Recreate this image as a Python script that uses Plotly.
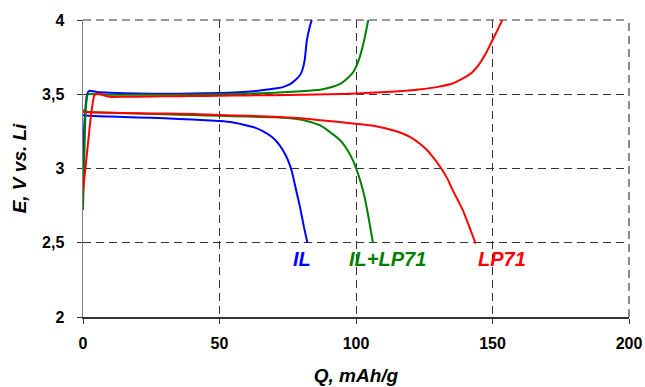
import plotly.graph_objects as go

# IL (blue)
il_charge_q = [0, 0.5, 1.5, 2.3, 5, 10, 20, 30, 40, 50, 57, 62.5, 67, 71, 73.5, 76, 78, 79.5, 80.3, 81.2, 82, 83, 83.8]
il_charge_e = [2.95, 3.3, 3.5, 3.523, 3.515, 3.51, 3.505, 3.503, 3.505, 3.508, 3.513, 3.52, 3.53, 3.54, 3.55, 3.57, 3.6, 3.63, 3.66, 3.73, 3.865, 3.95, 4.0]
il_dis_q = [0, 2, 10, 20, 30, 40, 50, 55, 60, 63, 66, 69, 71, 73, 75, 76.5, 78, 79.5, 81, 82.2]
il_dis_e = [3.36, 3.355, 3.35, 3.344, 3.338, 3.33, 3.32, 3.31, 3.29, 3.275, 3.25, 3.215, 3.18, 3.13, 3.06, 2.98, 2.86, 2.74, 2.6, 2.5]

# IL+LP71 (green)
mix_charge_q = [0, 0.5, 1, 1.8, 5, 10, 20, 30, 40, 50, 60, 70, 80, 86.9, 90.5, 94.2, 97, 99, 101, 102.7, 104.5]
mix_charge_e = [2.72, 3.1, 3.4, 3.5, 3.5, 3.497, 3.496, 3.496, 3.497, 3.5, 3.503, 3.51, 3.52, 3.53, 3.545, 3.57, 3.61, 3.65, 3.73, 3.84, 4.0]
mix_dis_q = [0, 2, 10, 20, 30, 40, 50, 60, 70, 75, 79.6, 83, 86.9, 90.5, 94.2, 97, 99, 101, 103, 104.5, 106.2]
mix_dis_e = [3.39, 3.38, 3.375, 3.37, 3.365, 3.36, 3.355, 3.35, 3.345, 3.34, 3.33, 3.315, 3.29, 3.245, 3.19, 3.12, 3.05, 2.95, 2.82, 2.68, 2.5]

# LP71 (red)
lp_charge_q = [0, 1, 2, 3, 4.1, 5.1, 6.5, 8.5, 10.2, 15, 20, 30, 40, 50, 60, 70, 80, 90, 100, 111, 118, 123, 129.5, 135.4, 138, 140.5, 142.7, 145, 147.7, 149.6, 151.5, 153.6]
lp_charge_e = [2.85, 3.02, 3.2, 3.37, 3.49, 3.503, 3.5, 3.488, 3.482, 3.483, 3.484, 3.486, 3.488, 3.49, 3.492, 3.494, 3.497, 3.5, 3.505, 3.515, 3.523, 3.532, 3.548, 3.572, 3.595, 3.62, 3.65, 3.7, 3.78, 3.85, 3.92, 4.0]
lp_dis_q = [0, 2, 10, 20, 30, 40, 50, 60, 70, 80, 87, 93, 99.7, 105.1, 109, 112.4, 115, 117.3, 120.5, 123.4, 126, 128.2, 131.3, 133.5, 135.5, 137.5, 139.2, 141.6, 143.8]
lp_dis_e = [3.38, 3.378, 3.375, 3.372, 3.37, 3.367, 3.36, 3.355, 3.348, 3.338, 3.325, 3.314, 3.302, 3.291, 3.278, 3.263, 3.249, 3.234, 3.205, 3.167, 3.125, 3.076, 2.998, 2.93, 2.851, 2.78, 2.716, 2.603, 2.495]

labels = ["IL", "IL+LP71", "LP71"]
label_q = [80.3, 111.7, 153.3]
label_e = [2.39, 2.39, 2.39]
colors = ["#0000FF", "#008000", "#FF0000"]

x_ticks = [0, 50, 100, 150, 200]
y_ticks = [2, 2.5, 3, 3.5, 4]
y_tick_text = ["2", "2,5", "3", "3,5", "4"]

series = [
    (il_charge_q, il_charge_e, il_dis_q, il_dis_e),
    (mix_charge_q, mix_charge_e, mix_dis_q, mix_dis_e),
    (lp_charge_q, lp_charge_e, lp_dis_q, lp_dis_e),
]

FONT = "Liberation Sans, Arial"
GRID = "#333333"

fig = go.Figure()
for (cq, ce, dq, de), col in zip(series, colors):
    for xs, ys in ((cq, ce), (dq, de)):
        fig.add_trace(go.Scatter(x=xs, y=ys, mode="lines",
                                 line=dict(color=col, width=2, shape="spline", smoothing=0.4),
                                 showlegend=False, hoverinfo="skip"))

for t, q, e, col in zip(labels, label_q, label_e, colors):
    fig.add_annotation(x=q, y=e, xref="x", yref="y", text="<b><i>%s</i></b>" % t, showarrow=False,
                       font=dict(family=FONT, size=20, color=col))

# dashed frame lines on the top and right edges (like the grid)
fig.add_shape(type="line", xref="x domain", yref="y domain", x0=0, x1=1, y0=1, y1=1,
              line=dict(color=GRID, width=1, dash="8px,5px"), layer="below")
fig.add_shape(type="line", xref="x domain", yref="y domain", x0=1, x1=1, y0=0, y1=1,
              line=dict(color="#666666", width=1.5, dash="8px,5px"), layer="below")

fig.update_layout(
    width=645, height=387,
    margin=dict(l=83, r=16, t=20, b=70),
    paper_bgcolor="white", plot_bgcolor="white",
    font=dict(family=FONT, color="black"),
    hovermode=False,
)
fig.update_xaxes(
    range=[0, 200], tickvals=x_ticks, ticktext=["<b>%s</b>" % v for v in x_ticks],
    showgrid=True, gridcolor=GRID, griddash="8px,5px", gridwidth=1,
    showline=True, linecolor="#333333", linewidth=1.5,
    ticks="outside", ticklen=5, tickcolor="#333333", ticklabelstandoff=6,
    tickfont=dict(size=16, family=FONT), zeroline=False, automargin=False,
    title=dict(text="<b><i>Q, mAh/g</i></b>", font=dict(size=19), standoff=18),
)
fig.update_yaxes(
    range=[2, 4], tickvals=y_ticks, ticktext=["<b>%s</b>" % s for s in y_tick_text],
    showgrid=True, gridcolor=GRID, griddash="8px,5px", gridwidth=1,
    showline=True, linecolor="#808080", linewidth=1.5,
    ticks="outside", ticklen=5, tickcolor="#333333", ticklabelstandoff=9,
    tickfont=dict(size=16, family=FONT), zeroline=False, automargin=False,
    title=dict(text="<b><i>E, V vs. Li</i></b>", font=dict(size=19), standoff=10),
)

# remove the browser's default 8px page margin so the figure fills the window exactly
fig.write_html("out.html", config={"displayModeBar": False, "staticPlot": True},
               post_script="document.body.style.margin='0';document.documentElement.style.overflow='hidden';")
